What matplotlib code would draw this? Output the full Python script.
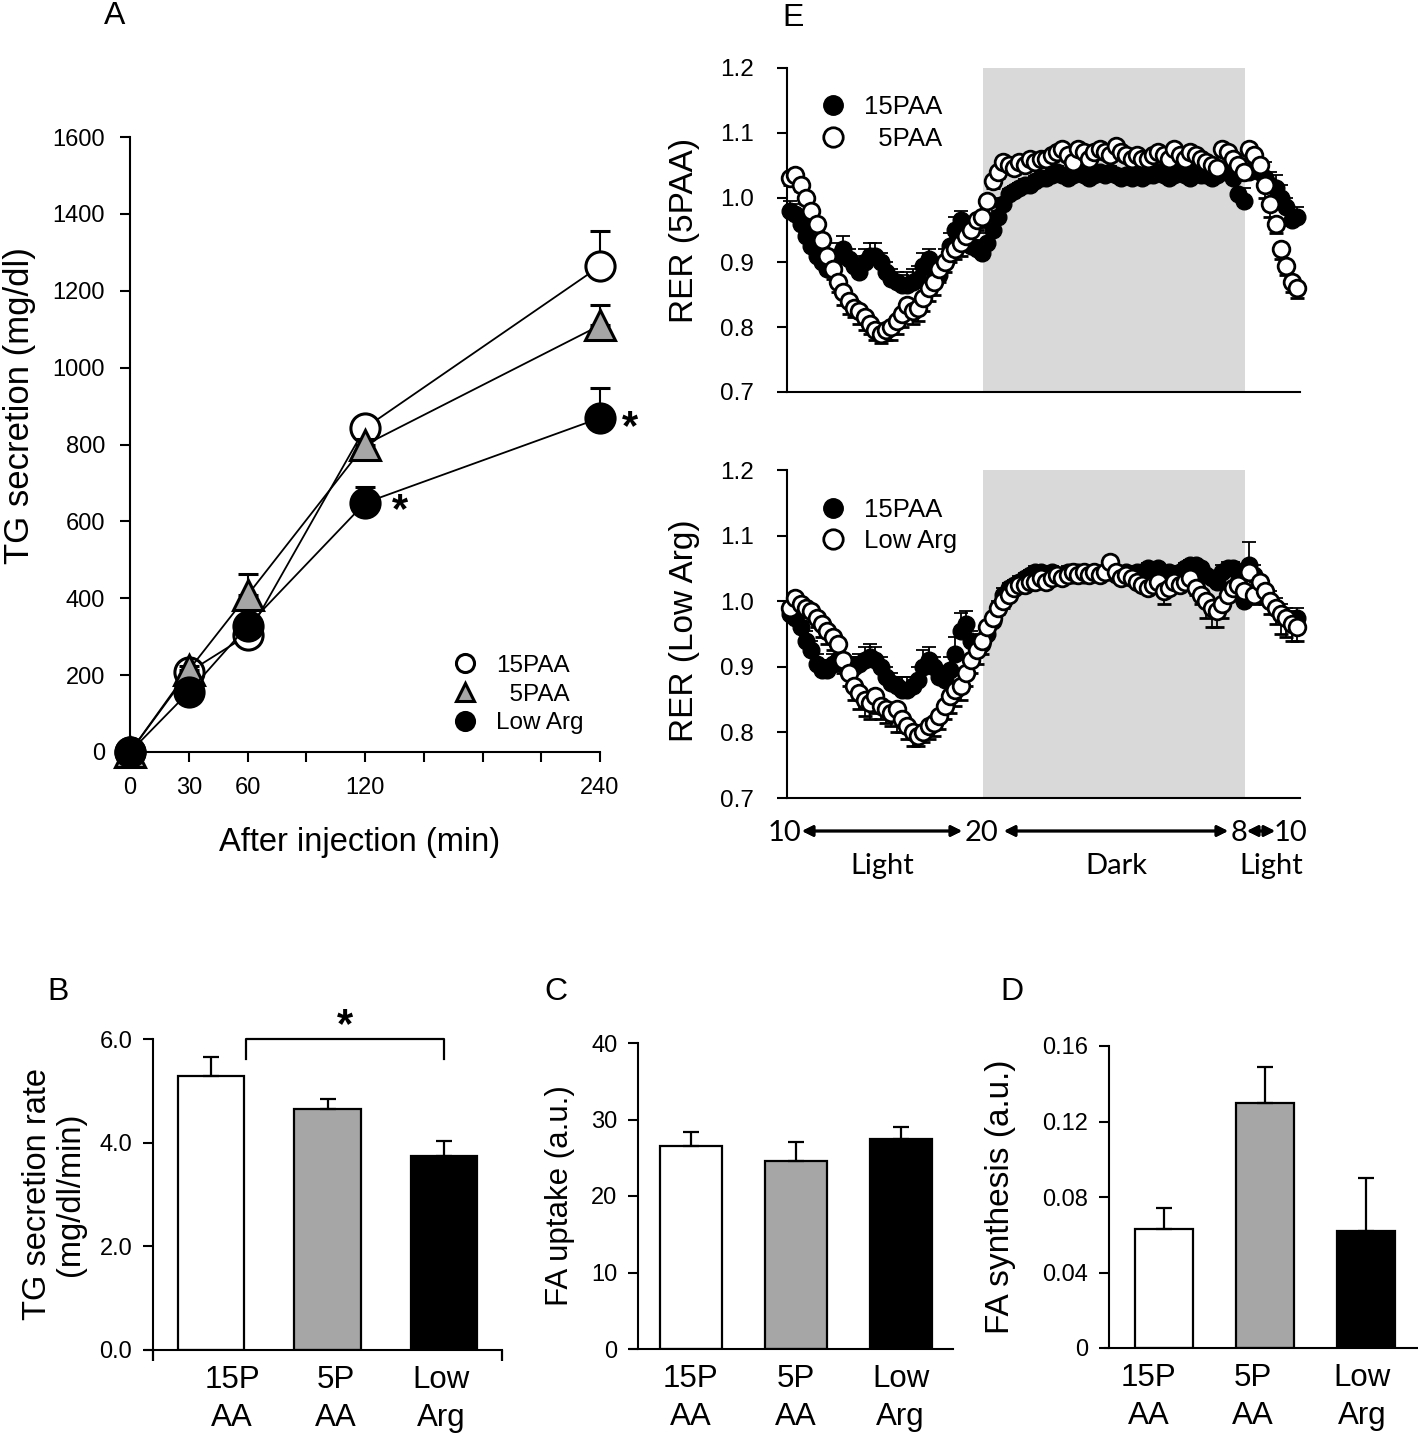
import numpy as np
import matplotlib.pyplot as plt
from matplotlib.lines import Line2D

plt.rcParams['font.family'] = ['Liberation Sans', 'DejaVu Sans']

W, H = 1418, 1436

# panel A: TG secretion after injection
a_time = [0, 30, 60, 120, 240]
a_15paa = [0, 208, 304, 843, 1264]
a_15paa_err = [0, 10, 12, 20, 91]
a_5paa = [0, 213, 408, 799, 1110]
a_5paa_err = [0, 10, 55, 15, 53]
a_lowarg = [0, 156, 328, 648, 869]
a_lowarg_err = [0, 10, 15, 41, 78]
a_xticklabels = ['0', '30', '60', '', '120', '', '', '', '240']

# panels B-D: bar charts
groups = ['15P\nAA', '5P\nAA', 'Low\nArg']
b_rate = [5.28, 4.64, 3.74]
b_rate_err = [0.37, 0.21, 0.29]
c_uptake = [26.6, 24.6, 27.4]
c_uptake_err = [1.8, 2.4, 1.6]
d_synth = [0.063, 0.130, 0.062]
d_synth_err = [0.011, 0.019, 0.028]

# panel E: RER time course (one point per sample)
rer_top_15paa = [
    0.98, 0.975, 0.96, 0.94, 0.925, 0.91, 0.90, 0.89, 0.895, 0.91, 0.92, 0.905,
    0.895, 0.885, 0.90, 0.91, 0.91, 0.90, 0.885, 0.875, 0.87, 0.865, 0.865, 0.87,
    0.875, 0.895, 0.905, 0.885, 0.88, 0.90, 0.925, 0.95, 0.965, 0.95, 0.925, 0.92,
    0.915, 0.93, 0.95, 0.97, 0.99, 1.005, 1.01, 1.015, 1.02, 1.02, 1.025, 1.03,
    1.03, 1.035, 1.04, 1.035, 1.03, 1.035, 1.04, 1.035, 1.03, 1.035, 1.04, 1.035,
    1.04, 1.035, 1.03, 1.035, 1.03, 1.035, 1.03, 1.035, 1.035, 1.04, 1.035, 1.03,
    1.035, 1.04, 1.035, 1.03, 1.04, 1.035, 1.035, 1.03, 1.035, 1.04, 1.04, 1.03,
    1.005, 0.995, 1.04, 1.045, 1.04, 1.03, 1.02, 1.015, 1.0, 0.985, 0.965, 0.97]
rer_top_15paa_err = [
    0.015, 0.015, 0.015, 0.015, 0.015, 0.015, 0.015, 0.02, 0.02, 0.02, 0.02, 0.015,
    0.015, 0.015, 0.02, 0.02, 0.02, 0.015, 0.015, 0.015, 0.015, 0.015, 0.02, 0.02,
    0.02, 0.02, 0.015, 0.015, 0.02, 0.02, 0.02, 0.02, 0.015, 0.015, 0.015, 0.015,
    0.015, 0.015, 0.01, 0.01, 0.01, 0.008, 0.008, 0.008, 0.008, 0.008, 0.008, 0.008,
    0.008, 0.008, 0.008, 0.008, 0.008, 0.008, 0.008, 0.008, 0.008, 0.008, 0.008, 0.008,
    0.008, 0.008, 0.008, 0.008, 0.008, 0.008, 0.008, 0.008, 0.008, 0.008, 0.008, 0.008,
    0.008, 0.008, 0.008, 0.008, 0.008, 0.008, 0.008, 0.008, 0.008, 0.01, 0.01, 0.01,
    0.02, 0.02, 0.02, 0.015, 0.02, 0.025, 0.02, 0.02, 0.02, 0.015, 0.015, 0.015]
rer_top_5paa = [
    1.03, 1.035, 1.02, 1.00, 0.98, 0.96, 0.935, 0.91, 0.89, 0.87, 0.855, 0.84,
    0.83, 0.825, 0.815, 0.805, 0.795, 0.79, 0.795, 0.80, 0.81, 0.82, 0.835, 0.825,
    0.83, 0.845, 0.86, 0.87, 0.89, 0.90, 0.915, 0.92, 0.93, 0.94, 0.95, 0.965,
    0.97, 0.995, 1.025, 1.04, 1.055, 1.05, 1.045, 1.055, 1.05, 1.06, 1.055, 1.06,
    1.06, 1.065, 1.07, 1.075, 1.065, 1.055, 1.075, 1.07, 1.06, 1.07, 1.075, 1.07,
    1.065, 1.08, 1.07, 1.065, 1.06, 1.065, 1.06, 1.06, 1.065, 1.07, 1.065, 1.06,
    1.075, 1.065, 1.06, 1.07, 1.065, 1.06, 1.055, 1.05, 1.045, 1.075, 1.07, 1.06,
    1.05, 1.04, 1.075, 1.065, 1.05, 1.02, 0.99, 0.96, 0.92, 0.895, 0.87, 0.86]
rer_top_5paa_err = [
    0.01, 0.01, 0.01, 0.01, 0.01, 0.01, 0.015, 0.015, 0.015, 0.015, 0.02, 0.02,
    0.015, 0.02, 0.02, 0.015, 0.015, 0.015, 0.015, 0.02, 0.02, 0.02, 0.02, 0.02,
    0.02, 0.02, 0.02, 0.02, 0.02, 0.015, 0.015, 0.015, 0.02, 0.02, 0.015, 0.015,
    0.015, 0.01, 0.01, 0.01, 0.008, 0.008, 0.008, 0.008, 0.008, 0.008, 0.008, 0.008,
    0.008, 0.008, 0.008, 0.008, 0.008, 0.008, 0.008, 0.008, 0.008, 0.008, 0.008, 0.008,
    0.008, 0.008, 0.008, 0.008, 0.008, 0.008, 0.008, 0.008, 0.008, 0.008, 0.008, 0.008,
    0.008, 0.008, 0.008, 0.008, 0.008, 0.008, 0.008, 0.008, 0.008, 0.008, 0.008, 0.008,
    0.01, 0.01, 0.01, 0.01, 0.015, 0.02, 0.02, 0.015, 0.015, 0.015, 0.015, 0.015]
rer_bot_15paa = [
    0.98, 0.975, 0.96, 0.94, 0.925, 0.905, 0.895, 0.895, 0.905, 0.91, 0.905, 0.90,
    0.90, 0.905, 0.91, 0.915, 0.91, 0.90, 0.885, 0.875, 0.87, 0.865, 0.865, 0.87,
    0.88, 0.90, 0.91, 0.90, 0.885, 0.88, 0.895, 0.92, 0.955, 0.965, 0.94, 0.93,
    0.935, 0.95, 0.97, 0.99, 1.01, 1.02, 1.025, 1.03, 1.035, 1.04, 1.045, 1.045,
    1.04, 1.045, 1.04, 1.04, 1.045, 1.04, 1.045, 1.04, 1.04, 1.045, 1.04, 1.045,
    1.045, 1.04, 1.04, 1.045, 1.04, 1.045, 1.045, 1.05, 1.045, 1.05, 1.04, 1.045,
    1.04, 1.045, 1.05, 1.055, 1.055, 1.05, 1.04, 1.035, 1.03, 1.045, 1.05, 1.05,
    1.03, 1.0, 1.055, 1.04, 1.02, 1.01, 1.0, 0.99, 0.98, 0.975, 0.97, 0.975]
rer_bot_15paa_err = [
    0.015, 0.015, 0.015, 0.015, 0.015, 0.015, 0.015, 0.015, 0.015, 0.015, 0.015, 0.015,
    0.015, 0.015, 0.02, 0.02, 0.02, 0.015, 0.015, 0.015, 0.015, 0.02, 0.02, 0.015,
    0.02, 0.025, 0.02, 0.015, 0.015, 0.02, 0.02, 0.025, 0.027, 0.02, 0.015, 0.015,
    0.015, 0.015, 0.01, 0.01, 0.01, 0.008, 0.008, 0.008, 0.008, 0.008, 0.008, 0.008,
    0.008, 0.008, 0.008, 0.008, 0.008, 0.008, 0.008, 0.008, 0.008, 0.008, 0.008, 0.008,
    0.008, 0.008, 0.008, 0.008, 0.008, 0.008, 0.008, 0.008, 0.008, 0.008, 0.008, 0.008,
    0.008, 0.008, 0.008, 0.008, 0.008, 0.008, 0.008, 0.008, 0.008, 0.01, 0.01, 0.01,
    0.01, 0.015, 0.035, 0.015, 0.015, 0.015, 0.015, 0.015, 0.015, 0.015, 0.015, 0.015]
rer_bot_lowarg = [
    0.99, 1.005, 0.995, 0.99, 0.985, 0.975, 0.965, 0.955, 0.945, 0.935, 0.91, 0.89,
    0.87, 0.86, 0.85, 0.845, 0.855, 0.84, 0.835, 0.83, 0.835, 0.82, 0.81, 0.80,
    0.795, 0.80, 0.81, 0.815, 0.825, 0.84, 0.855, 0.865, 0.87, 0.89, 0.91, 0.925,
    0.94, 0.96, 0.975, 0.99, 1.0, 1.01, 1.02, 1.025, 1.025, 1.03, 1.03, 1.035,
    1.03, 1.035, 1.04, 1.035, 1.04, 1.045, 1.04, 1.045, 1.04, 1.045, 1.04, 1.045,
    1.06, 1.045, 1.035, 1.04, 1.035, 1.03, 1.025, 1.02, 1.025, 1.03, 1.015, 1.02,
    1.03, 1.025, 1.03, 1.035, 1.02, 1.01, 1.0, 0.99, 0.985, 0.995, 1.01, 1.02,
    1.025, 1.015, 1.045, 1.01, 1.03, 1.015, 1.0, 0.99, 0.98, 0.975, 0.965, 0.96]
rer_bot_lowarg_err = [
    0.01, 0.01, 0.01, 0.01, 0.015, 0.015, 0.02, 0.02, 0.02, 0.02, 0.02, 0.02,
    0.02, 0.025, 0.025, 0.025, 0.025, 0.02, 0.02, 0.02, 0.035, 0.02, 0.02, 0.02,
    0.015, 0.015, 0.02, 0.02, 0.02, 0.02, 0.025, 0.025, 0.02, 0.02, 0.02, 0.02,
    0.02, 0.015, 0.01, 0.01, 0.01, 0.008, 0.008, 0.008, 0.008, 0.008, 0.008, 0.008,
    0.008, 0.008, 0.008, 0.008, 0.008, 0.008, 0.008, 0.008, 0.008, 0.008, 0.008, 0.008,
    0.008, 0.008, 0.008, 0.008, 0.008, 0.008, 0.008, 0.008, 0.008, 0.015, 0.02, 0.008,
    0.008, 0.008, 0.008, 0.008, 0.01, 0.015, 0.025, 0.03, 0.025, 0.02, 0.01, 0.01,
    0.01, 0.01, 0.01, 0.015, 0.015, 0.02, 0.02, 0.025, 0.03, 0.03, 0.025, 0.02]
dark_span = (36.1, 85.2)


def box(l, t, r, b):
    return [l / W, 1 - b / H, (r - l) / W, (b - t) / H]


def clean(ax, lw=1.5):
    for s in ['top', 'right']:
        ax.spines[s].set_visible(False)
    for s in ['left', 'bottom']:
        ax.spines[s].set_linewidth(lw)


def noclip(container):
    for art in container.lines[0:1] + tuple(container.lines[1]) + tuple(container.lines[2]):
        if art is not None:
            art.set_clip_on(False)


fig = plt.figure(figsize=(W / 100, H / 100), dpi=100)

# ---------------- panel A
axA = fig.add_axes(box(130, 137, 600, 752))
clean(axA)
series = [
    (a_15paa, a_15paa_err, 'o', 'white', 21, '15PAA'),
    (a_5paa, a_5paa_err, '^', '#a6a6a6', 22, '  5PAA'),
    (a_lowarg, a_lowarg_err, 'o', 'black', 21, 'Low Arg'),
]
for k, (vals, err, mk, fc, ms, lab) in enumerate(series):
    eb = axA.errorbar(a_time, vals, yerr=[np.zeros(len(err)), err], fmt=mk + '-',
                      color='black', mfc=fc, mec='black', ms=ms, mew=2.2, lw=1.3,
                      ecolor='black', elinewidth=1.5, capsize=7, capthick=1.5,
                      zorder=3 + k)
    noclip(eb)
axA.text(134, 628, '*', fontsize=30, fontweight='bold', ha='left', va='center')
axA.text(251, 842, '*', fontsize=30, fontweight='bold', ha='left', va='center')
axA.set_xlim(0, 240)
axA.set_ylim(0, 1600)
axA.set_xticks(range(0, 241, 30))
axA.set_xticklabels(a_xticklabels)
axA.set_yticks(range(0, 1601, 200))
axA.tick_params(direction='out', length=7, width=1.5, labelsize=17, pad=11)
axA.set_ylabel('TG secretion (mg/dl)', fontsize=25)
axA.yaxis.set_label_coords(-0.2, 0.564)
axA.set_xlabel('After injection (min)', fontsize=23.5)
axA.xaxis.set_label_coords(0.489, -0.122)
handles = [Line2D([], [], ls='none', marker=mk, mfc=fc, mec='black', mew=2.2, ms=13)
           for (_, _, mk, fc, _, _) in series]
axA.legend(handles, [s[5] for s in series], loc='upper left',
           bbox_to_anchor=(0.655, 0.178), frameon=False, fontsize=17.5,
           handletextpad=0.7, labelspacing=0.28, borderpad=0, handlelength=1.2)

# ---------------- panel E
x = np.arange(len(rer_top_15paa))
zeros = np.zeros(len(x))


def draw_rer(ax, filled, filled_err, opened, opened_err, open_label, ylabel, lab_y):
    clean(ax)
    ax.axvspan(dark_span[0], dark_span[1], color='#d9d9d9', lw=0, zorder=0)
    e1 = ax.errorbar(x, filled, yerr=[zeros, filled_err], fmt='o', ms=12,
                     mfc='black', mec='black', ecolor='black', elinewidth=1.3,
                     capsize=5, capthick=1.3, zorder=2)
    e2 = ax.errorbar(x, opened, yerr=[opened_err, zeros], fmt='o', ms=12,
                     mfc='white', mec='black', mew=2, ecolor='black',
                     elinewidth=1.3, capsize=5, capthick=1.3, zorder=3)
    noclip(e1)
    noclip(e2)
    ax.set_xlim(-0.56, 95.56)
    ax.set_ylim(0.7, 1.2)
    ax.set_xticks([])
    ax.set_yticks([0.7, 0.8, 0.9, 1.0, 1.1, 1.2])
    ax.set_yticklabels(['0.7', '0.8', '0.9', '1.0', '1.1', '1.2'])
    ax.tick_params(axis='y', direction='out', length=7, width=1.5, labelsize=17.5, pad=17)
    ax.set_ylabel(ylabel, fontsize=24)
    ax.yaxis.set_label_coords(-0.17, lab_y)
    hs = [Line2D([], [], ls='none', marker='o', mfc='black', mec='black', ms=14),
          Line2D([], [], ls='none', marker='o', mfc='white', mec='black', mew=2, ms=14)]
    ax.legend(hs, ['15PAA', open_label], loc='upper left', bbox_to_anchor=(0.035, 0.955),
              frameon=False, fontsize=18.5, handletextpad=0.6, labelspacing=0.3,
              borderpad=0, handlelength=1.2)


axE1 = fig.add_axes(box(787, 68, 1300, 392))
draw_rer(axE1, rer_top_15paa, rer_top_15paa_err, rer_top_5paa, rer_top_5paa_err,
         '  5PAA', 'RER (5PAA)', 0.5)
axE2 = fig.add_axes(box(787, 470, 1300, 798))
draw_rer(axE2, rer_bot_15paa, rer_bot_15paa_err, rer_bot_lowarg, rer_bot_lowarg_err,
         'Low Arg', 'RER (Low Arg)', 0.51)

# light / dark annotation under panel E
cal = ['Lato', 'DejaVu Sans']
for lab, px in [('10', 784), ('20', 982), ('8', 1239), ('10', 1290)]:
    fig.text(px / W, 1 - 833 / H, lab, fontsize=21, family=cal, ha='center', va='center')
for lab, px in [('Light', 882), ('Dark', 1116), ('Light', 1271)]:
    fig.text(px / W, 1 - 866 / H, lab, fontsize=21, family=cal, ha='center', va='center')
for x0, x1 in [(802, 962), (1004, 1228), (1247, 1275)]:
    fig.add_artist(plt.annotate('', xy=(x1 / W, 1 - 831 / H), xytext=(x0 / W, 1 - 831 / H),
                                xycoords='figure fraction',
                                arrowprops=dict(arrowstyle='<|-|>', color='black', lw=2,
                                                mutation_scale=16, shrinkA=0, shrinkB=0)))

# ---------------- bar panels
bar_colors = ['white', '#a6a6a6', 'black']


def draw_bars(rect, vals, errs, xlim, spine_x, width, yticks, yticklabels, ylabel,
              lab_x, label_pos, ylab_size, edge_ticks=False):
    ax = fig.add_axes(box(*rect))
    clean(ax)
    ax.spines['left'].set_position(('data', spine_x))
    ax.bar(range(3), vals, width=width, color=bar_colors, edgecolor='black', lw=1.6, zorder=2)
    ax.errorbar(range(3), vals, yerr=[np.zeros(3), errs], fmt='none', ecolor='black',
                elinewidth=1.6, capsize=6, capthick=1.6, zorder=3)
    ax.set_xlim(*xlim)
    ax.set_ylim(yticks[0], yticks[-1])
    ax.set_yticks(yticks)
    ax.set_yticklabels(yticklabels)
    ax.set_xticks(label_pos)
    ax.set_xticklabels(groups, fontsize=22.5, linespacing=1.32)
    ax.tick_params(axis='x', length=0, pad=11)
    ax.tick_params(axis='y', direction='out', length=7, width=1.5, labelsize=17, pad=8)
    if edge_ticks:
        ax.set_xticks([spine_x, xlim[1]], minor=True)
        ax.tick_params(axis='x', which='minor', direction='out', length=8, width=1.6)
    ax.set_ylabel(ylabel, fontsize=ylab_size, linespacing=1.1)
    ax.yaxis.set_label_coords(lab_x, 0.5)
    return ax


axB = draw_bars((145, 1039, 502, 1350), b_rate, b_rate_err, (-0.57, 2.5), -0.5, 0.57,
                [0, 2, 4, 6], ['0.0', '2.0', '4.0', '6.0'],
                'TG secretion rate\n(mg/dl/min)', -0.165, [0.18, 1.07, 1.98], 23.5,
                edge_ticks=True)
axB.plot([0.3, 0.3, 2.0, 2.0], [5.62, 6.0, 6.0, 5.62], color='black', lw=1.6, clip_on=False)
axB.text(1.15, 6.25, '*', fontsize=30, fontweight='bold', ha='center', va='center')

axC = draw_bars((630, 1043, 953, 1349), c_uptake, c_uptake_err, (-0.58, 2.5), -0.5, 0.59,
                [0, 10, 20, 30, 40], ['0', '10', '20', '30', '40'],
                'FA uptake (a.u.)', -0.17, [0, 1, 2], 22.5)

axD = draw_bars((1105, 1046, 1417, 1348), d_synth, d_synth_err, (-0.58, 2.5), -0.54, 0.57,
                [0, 0.04, 0.08, 0.12, 0.16], ['0', '0.04', '0.08', '0.12', '0.16'],
                'FA synthesis (a.u.)', -0.285, [-0.15, 0.88, 1.96], 24)

# panel letters
for lab, px, py in [('A', 115, 16), ('E', 793, 18), ('B', 58, 992), ('C', 556, 992), ('D', 1012, 992)]:
    fig.text(px / W, 1 - py / H, lab, fontsize=23, ha='center', va='center')

fig.savefig('out.png', dpi=100)
